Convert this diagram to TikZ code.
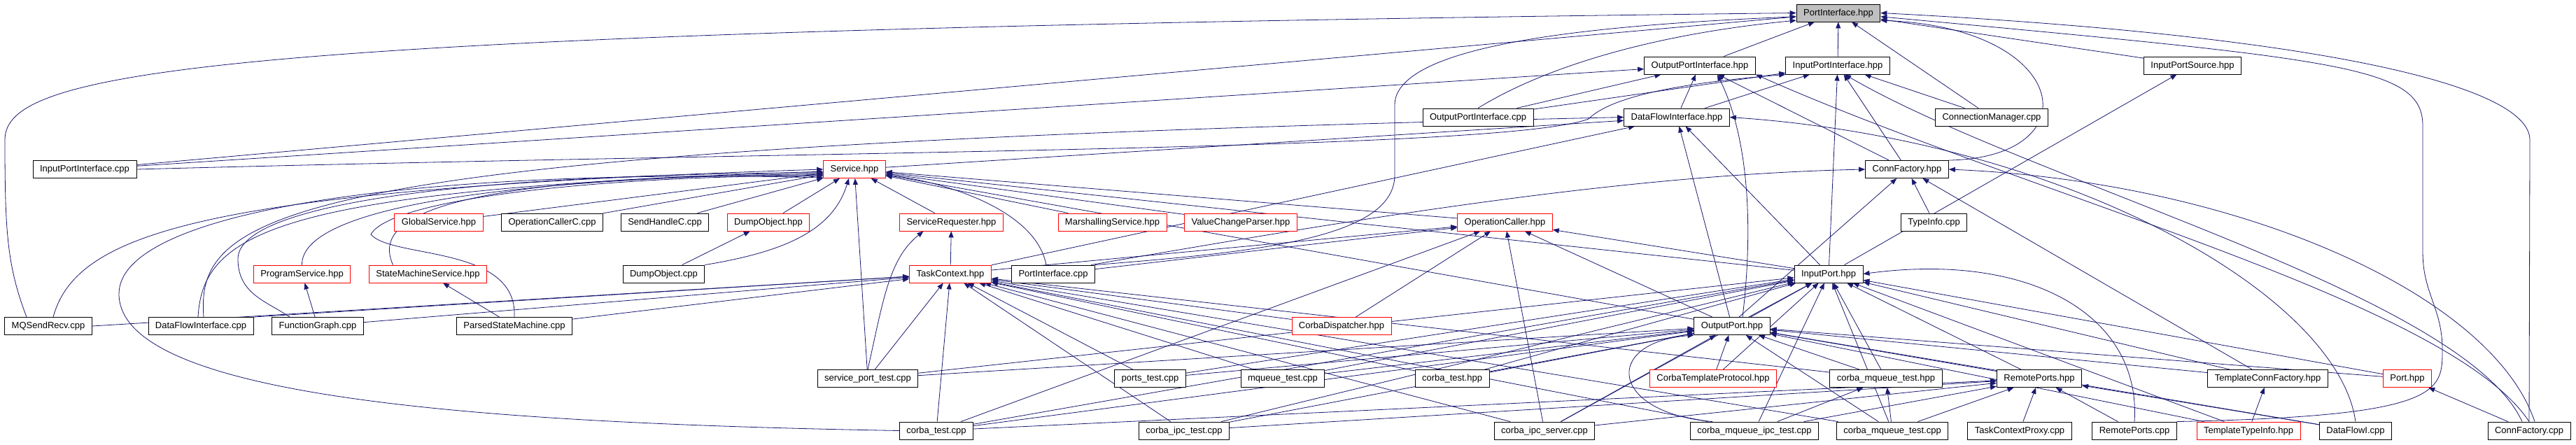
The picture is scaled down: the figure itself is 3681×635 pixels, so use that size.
\documentclass[tikz,border=0pt]{standalone}
\usepackage{fontspec}
\setmainfont{Liberation Sans}
\usepackage{tikz}
\usetikzlibrary{arrows.meta}
\definecolor{incblue}{RGB}{25,25,112}
\definecolor{rootgray}{RGB}{191,191,191}
\tikzset{
    file/.style={rectangle, draw=black, fill=white, line width=0.9pt, font=\fontsize{13}{15}\selectfont, inner xsep=10pt, inner ysep=0pt, text height=9.5pt, text depth=2.5pt, minimum height=25pt},
    truncfile/.style={file, draw=red},
    rootfile/.style={file, fill=rootgray},
    inc/.style={draw=incblue, line width=0.8pt, -{Triangle[length=9pt, width=7pt]}}
}
\pgfdeclarelayer{edges}
\pgfsetlayers{edges,main}

\begin{document}
\begin{tikzpicture}[x=1pt, y=-1pt]
    \useasboundingbox (0,0) rectangle (3681,635);

    % --- HEADERS, TOP DOWN ---
    \node[rootfile] (PIhpp) at (2627,18.5) {PortInterface.hpp};
    \node[file] (OPIhpp) at (2429,93.5) {OutputPortInterface.hpp};
    \node[file] (IPIhpp) at (2626,93.5) {InputPortInterface.hpp};
    \node[file] (IPShpp) at (3133,93.5) {InputPortSource.hpp};
    \node[file] (OPIcpp) at (2112,167.5) {OutputPortInterface.cpp};
    \node[file] (DFIhpp) at (2396,167.5) {DataFlowInterface.hpp};
    \node[file] (CMcpp) at (2846,167.5) {ConnectionManager.cpp};
    \node[file] (IPIcpp) at (121,242) {InputPortInterface.cpp};
    \node[truncfile] (Svchpp) at (1221,242) {Service.hpp};
    \node[file] (CFhpp) at (2725,242) {ConnFactory.hpp};

    % --- SERVICE LEVEL ---
    \node[truncfile] (GShpp) at (627,317.5) {GlobalService.hpp};
    \node[file] (OCCcpp) at (789,317.5) {OperationCallerC.cpp};
    \node[file] (SHCcpp) at (950,317.5) {SendHandleC.cpp};
    \node[truncfile] (DOhpp) at (1098,317.5) {DumpObject.hpp};
    \node[truncfile] (SRhpp) at (1359.5,317.5) {ServiceRequester.hpp};
    \node[truncfile] (MShpp) at (1589.5,317.5) {MarshallingService.hpp};
    \node[truncfile] (VCPhpp) at (1773,317.5) {ValueChangeParser.hpp};
    \node[truncfile] (OChpp) at (2150.5,317.5) {OperationCaller.hpp};
    \node[file] (TIcpp) at (2763.5,317.5) {TypeInfo.cpp};
    \node[truncfile] (PShpp) at (431.5,391.5) {ProgramService.hpp};
    \node[truncfile] (SMShpp) at (611.5,391.5) {StateMachineService.hpp};
    \node[file] (DOcpp) at (948.5,391.5) {DumpObject.cpp};
    \node[truncfile] (TChpp) at (1358,391.5) {TaskContext.hpp};
    \node[file] (PIcpp) at (1505,391.5) {PortInterface.cpp};
    \node[file] (IPhpp) at (2613,391.5) {InputPort.hpp};

    % --- PORTS AND USERS ---
    \node[file] (MQcpp) at (69,466) {MQSendRecv.cpp};
    \node[file] (DFIcpp) at (287,466) {DataFlowInterface.cpp};
    \node[file] (FGcpp) at (454,466) {FunctionGraph.cpp};
    \node[file] (PSMcpp) at (735,466) {ParsedStateMachine.cpp};
    \node[truncfile] (CDhpp) at (1917,466) {CorbaDispatcher.hpp};
    \node[file] (OPhpp) at (2475,466) {OutputPort.hpp};
    \node[file] (SPTcpp) at (1240,541) {service\_port\_test.cpp};
    \node[file] (PTcpp) at (1643.5,541) {ports\_test.cpp};
    \node[file] (MQTcpp) at (1833,541) {mqueue\_test.cpp};
    \node[file] (CThpp) at (2075,541) {corba\_test.hpp};
    \node[truncfile] (CTPhpp) at (2448,541) {CorbaTemplateProtocol.hpp};
    \node[file] (CMThpp) at (2695,541) {corba\_mqueue\_test.hpp};
    \node[file] (RPhpp) at (2914,541) {RemotePorts.hpp};
    \node[file] (TCFhpp) at (3240.5,541) {TemplateConnFactory.hpp};
    \node[truncfile] (Porthpp) at (3440,541) {Port.hpp};

    % --- BOTTOM ROW: tests and transports ---
    \node[file] (CTcpp) at (1338,615.5) {corba\_test.cpp};
    \node[file] (CITcpp) at (1692,615.5) {corba\_ipc\_test.cpp};
    \node[file] (CIScpp) at (2207,615.5) {corba\_ipc\_server.cpp};
    \node[file] (CMITcpp) at (2507,615.5) {corba\_mqueue\_ipc\_test.cpp};
    \node[file] (CMTTcpp) at (2704,615.5) {corba\_mqueue\_test.cpp};
    \node[file] (TCPcpp) at (2886,615.5) {TaskContextProxy.cpp};
    \node[file] (RPcpp) at (3050,615.5) {RemotePorts.cpp};
    \node[truncfile] (TTIhpp) at (3213,615.5) {TemplateTypeInfo.hpp};
    \node[file] (DFImcpp) at (3366,615.5) {DataFlowI.cpp};
    \node[file] (CFcpp) at (3614,615.5) {ConnFactory.cpp};

    \begin{pgfonlayer}{edges}
    % into PortInterface.hpp
    \foreach \src in {OPIhpp,IPIhpp,CMcpp,IPShpp,IPIcpp}
        \draw[inc] (\src) -- (PIhpp);
    \draw[inc] (OPIcpp.north) .. controls (2200,100) and (2350,50) .. (PIhpp.190);
    \draw[inc] ([xshift=-31pt]MQcpp.north) .. controls (10,380) and (7,330) .. (7,200) .. controls (7,100) and (300,45) .. (PIhpp.west);
    \draw[inc] (PIcpp.north east) .. controls (1800,360) and (1993,340) .. (1993,250) -- (1993,150) .. controls (1993,60) and (2300,35) .. (PIhpp.185);
    \draw[inc] (CFhpp.north east) .. controls (2990,225) and (2960,40) .. (PIhpp.350);
    \draw[inc] (RPcpp.north east) .. controls (3490,595) and (3490,560) .. (3490,500) .. controls (3490,440) and (3462,420) .. (3462,360) -- (3462,180) .. controls (3462,95) and (3350,85) .. (PIhpp.355);
    \draw[inc] (CFcpp.north) -- (3615,200) .. controls (3615,120) and (3300,50) .. (PIhpp.east);

    % into OutputPortInterface.hpp / InputPortInterface.hpp
    \foreach \src in {OPIcpp,DFIhpp,CFhpp,IPIcpp}
        \draw[inc] (\src) -- (OPIhpp);
    \draw[inc] ([xshift=15pt]OPhpp.north) .. controls (2505,330) and (2500,200) .. ([xshift=25pt]OPIhpp.south);
    \draw[inc] (CFcpp.north) .. controls (3500,430) and (2900,280) .. (OPIhpp.south east);
    \foreach \src in {OPIcpp,DFIhpp,IPhpp,CFhpp,CMcpp}
        \draw[inc] (\src) -- (IPIhpp);
    \draw[inc] (IPIcpp.east) .. controls (1200,215) and (2150,215) .. (2270,170) .. controls (2310,130) and (2450,115) .. (IPIhpp.south west);
    \draw[inc] ([xshift=-10pt]CFcpp.north) .. controls (3520,420) and (2900,260) .. ([xshift=10pt]IPIhpp.south);
    \draw[inc] (IPhpp) -- (IPShpp);

    % into DataFlowInterface.hpp
    \foreach \src in {Svchpp,TChpp,OPhpp,IPhpp}
        \draw[inc] (\src) -- (DFIhpp);
    \draw[inc] ([xshift=4pt]DFIcpp.north) .. controls (280,300) and (400,210) .. (DFIhpp.west);
    \draw[inc] (DFImcpp.north) .. controls (3340,420) and (2950,200) .. (DFIhpp.east);

    % into Service.hpp
    \foreach \src in {GShpp,OCCcpp,SHCcpp,DOhpp,SRhpp,MShpp,VCPhpp,OChpp,SPTcpp,IPhpp,OPhpp}
        \draw[inc] (\src) -- (Svchpp);
    \draw[inc] ([xshift=7pt]MQcpp.north) .. controls (110,330) and (300,270) .. (Svchpp.west);
    \draw[inc] ([xshift=-4pt]DFIcpp.north) .. controls (290,330) and (400,270) .. (Svchpp.184);
    \draw[inc] ([xshift=-40pt]FGcpp.north) .. controls (380,430) and (340,420) .. (340,370) .. controls (340,300) and (600,250) .. (Svchpp.186);
    \draw[inc] (PShpp.north) .. controls (430,300) and (700,255) .. (Svchpp.188);
    \draw[inc] ([xshift=-50pt]SMShpp.north) .. controls (540,330) and (560,250) .. (Svchpp.190);
    \draw[inc] (PSMcpp.north) .. controls (740,350) and (560,370) .. (530,335) .. controls (560,280) and (900,250) .. (Svchpp.192);
    \draw[inc] (CTcpp.west) .. controls (700,605) and (170,570) .. (170,420) .. controls (170,300) and (600,240) .. (Svchpp.195);
    \draw[inc] (DOcpp.north east) .. controls (1120,360) and (1190,330) .. ([xshift=-8pt]Svchpp.south);
    \draw[inc] ([xshift=-10pt]PIcpp.north) .. controls (1480,300) and (1350,260) .. (Svchpp.-10);

    % into ConnFactory.hpp
    \foreach \src in {TIcpp,TCFhpp}
        \draw[inc] (\src) -- (CFhpp);
    \draw[inc] ([xshift=10pt]OPhpp.north) -- (CFhpp);
    \draw[inc] ([xshift=-6pt]PIcpp.north east) .. controls (1900,320) and (2300,250) .. (CFhpp.west);
    \draw[inc] ([xshift=8pt]CFcpp.north) .. controls (3560,420) and (3200,260) .. (CFhpp.east);

    % DumpObject, ServiceRequester, OperationCaller, scripting
    \draw[inc] (DOcpp) -- (DOhpp);
    \draw[inc] (TChpp) -- (SRhpp);
    \draw[inc] (SPTcpp.north) .. controls (1262,430) and (1270,370) .. ([xshift=-40pt]SRhpp.south);
    \foreach \src in {TChpp,PIcpp,IPhpp,OPhpp,CDhpp,CTcpp,CIScpp}
        \draw[inc] (\src) -- (OChpp);
    \draw[inc] (FGcpp) -- (PShpp);
    \draw[inc] (PSMcpp) -- (SMShpp);

    % into TaskContext.hpp
    \foreach \src in {FGcpp,PSMcpp,CDhpp,CThpp,CMThpp,CTcpp,CITcpp,CIScpp,CMITcpp,CMTTcpp,PTcpp,MQTcpp,SPTcpp}
        \draw[inc] (\src) -- (TChpp);
    \draw[inc] (MQcpp.east) -- (TChpp);
    \draw[inc] (DFIcpp.north east) -- (TChpp);

    % into InputPort.hpp / OutputPort.hpp
    \foreach \src in {OPhpp,CTcpp,CITcpp,CIScpp,CMITcpp,CMTTcpp,CMThpp,PTcpp,MQTcpp,SPTcpp,CThpp,CTPhpp,RPhpp,TCFhpp,Porthpp,TTIhpp}
        \draw[inc] (\src) -- (IPhpp);
    \draw[inc] (RPcpp.north) .. controls (3060,450) and (2900,360) .. (IPhpp.east);
    \foreach \src in {CTPhpp,CMThpp,CThpp,RPhpp,TCFhpp,Porthpp,CIScpp,CMTTcpp,CTcpp,CITcpp,PTcpp,MQTcpp,SPTcpp,TTIhpp,DFImcpp}
        \draw[inc] (\src) -- (OPhpp);
    \draw[inc] ([xshift=-60pt]CMITcpp.north) .. controls (2300,590) and (2290,490) .. (OPhpp.south west);

    % corba side
    \foreach \src in {CMITcpp,CMTTcpp}
        \draw[inc] (\src) -- (CMThpp);
    \foreach \src in {TCPcpp,RPcpp,DFImcpp,CTcpp,CITcpp,CIScpp,CMITcpp,CMTTcpp}
        \draw[inc] (\src) -- (RPhpp);
    \draw[inc] (TTIhpp) -- (TCFhpp);
    \draw[inc] (CFcpp) -- (Porthpp);
    \end{pgfonlayer}
\end{tikzpicture}
\end{document}
